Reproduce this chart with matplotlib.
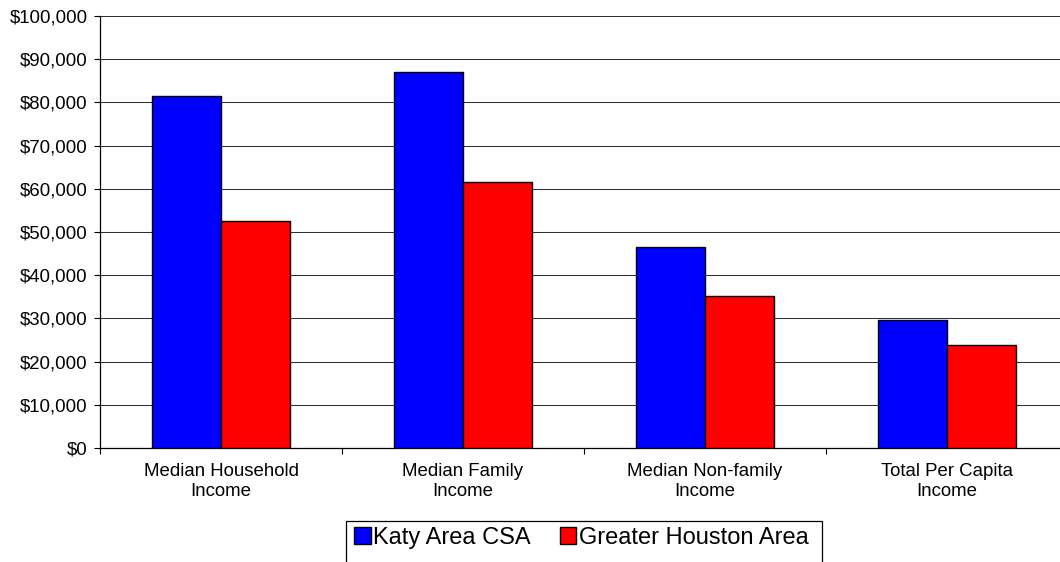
import matplotlib
matplotlib.use("Agg")
import matplotlib.pyplot as plt
from matplotlib.patches import Rectangle
from matplotlib.ticker import FuncFormatter

plt.rcParams['font.family'] = ['Liberation Sans', 'DejaVu Sans']

# Income data
categories = ["Median Household\nIncome", "Median Family\nIncome",
              "Median Non-family\nIncome", "Total Per Capita\nIncome"]
katy = [81500, 87000, 46600, 29700]
houston = [52600, 61600, 35300, 23800]
series_names = ["Katy Area CSA", "Greater Houston Area"]

fig = plt.figure(figsize=(10.6, 5.62), dpi=100)
ax = fig.add_axes([100 / 1060, 1 - 448 / 562, 968 / 1060, 432 / 562])

x = list(range(len(categories)))
w = 0.287
ax.bar([i - w / 2 for i in x], katy, w, color="#0000ff", edgecolor="black",
       linewidth=1.0, label=series_names[0], zorder=3)
ax.bar([i + w / 2 for i in x], houston, w, color="#ff0000", edgecolor="black",
       linewidth=1.0, label=series_names[1], zorder=3)

ax.set_xlim(-0.5, len(categories) - 0.5)
ax.set_ylim(0, 100000)
ax.set_yticks(range(0, 100001, 10000))
ax.yaxis.set_major_formatter(FuncFormatter(lambda v, p: f"${v:,.0f}"))
ax.yaxis.grid(True, color="#303030", linewidth=0.75, zorder=0)
ax.set_axisbelow(True)

# category boundaries get tick marks, labels sit at the centers
ax.set_xticks([i - 0.5 for i in range(len(categories) + 1)])
ax.set_xticklabels([])
ax.set_xticks(x, minor=True)
ax.set_xticklabels(categories, minor=True, fontsize=13.4)
ax.tick_params(axis="x", which="minor", length=0, pad=11)
ax.tick_params(axis="x", which="major", length=4, width=0.8, direction="out")
ax.tick_params(axis="y", length=4, width=0.8, pad=5, labelsize=13.4)

for s in ["top", "right"]:
    ax.spines[s].set_visible(False)
for s in ["left", "bottom"]:
    ax.spines[s].set_linewidth(0.9)
    ax.spines[s].set_color("black")

# legend box runs off the bottom edge, like the original
fig.patches.append(Rectangle((346 / 1060, 1 - 580 / 562), 476 / 1060, 59 / 562,
                             transform=fig.transFigure, facecolor="white",
                             edgecolor="black", linewidth=0.9))
fig.legend(loc="center", bbox_to_anchor=(581.5 / 1060, 1 - 538 / 562), ncol=2,
           frameon=False, fontsize=17, handlelength=0.7, handleheight=0.7,
           handletextpad=0.1, columnspacing=1.23, borderpad=0)

fig.savefig("out.png", dpi=100)
